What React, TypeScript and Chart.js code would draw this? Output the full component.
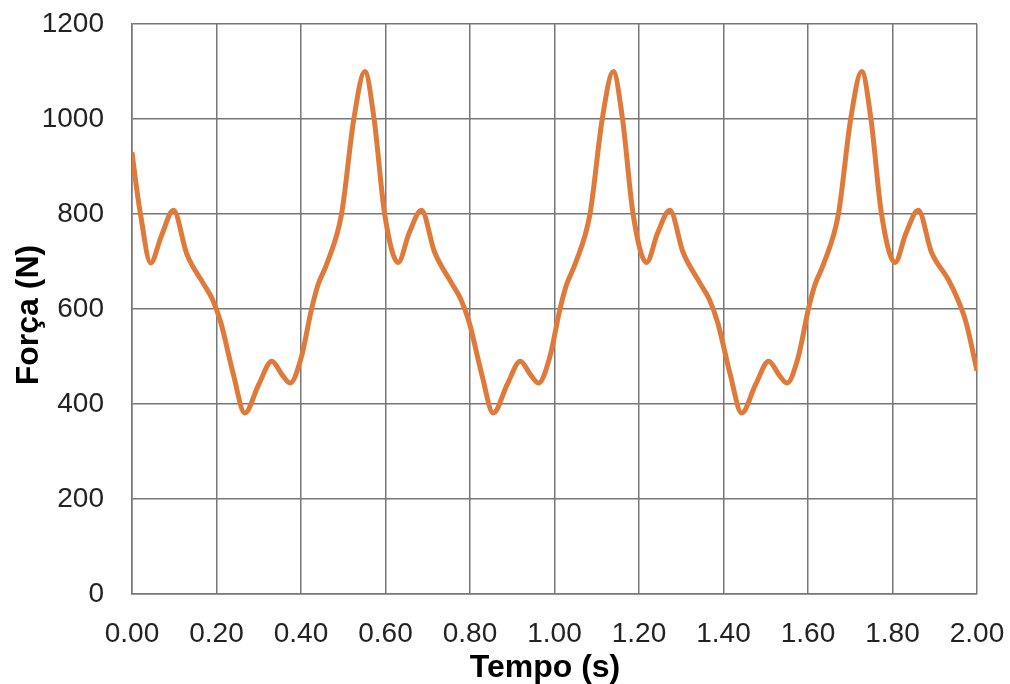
import React, { useEffect, useRef } from "react";
import { Chart, registerables } from "chart.js";

Chart.register(...registerables);

// Tempo (s)
const times: number[] = [
  0.0, 0.01, 0.02, 0.044, 0.07, 0.098, 0.13, 0.168, 0.19, 0.21, 0.24, 0.267, 0.3, 0.331, 0.355, 0.374, 0.4, 0.425, 0.44, 0.461, 0.496, 0.525,
  0.551, 0.573, 0.598, 0.63, 0.656, 0.685, 0.716, 0.756, 0.778, 0.798, 0.828, 0.855, 0.888, 0.919, 0.943, 0.962, 0.988, 1.013, 1.028, 1.049, 1.084, 1.113,
  1.139, 1.161, 1.186, 1.218, 1.244, 1.273, 1.304, 1.344, 1.366, 1.386, 1.416, 1.443, 1.476, 1.507, 1.531, 1.55, 1.576, 1.601, 1.616, 1.637, 1.672, 1.701,
  1.727, 1.749, 1.774, 1.806, 1.832, 1.861, 1.892, 1.932, 1.954, 1.974, 2.0,
];

// Força (N)
const forces: number[] = [
  930, 860, 800, 697, 755, 808, 715, 655, 621, 572, 462, 381, 441, 490, 462, 444, 496, 600, 650, 695, 800, 1000,
  1100, 1000, 800, 698, 760, 808, 720, 655, 621, 572, 462, 381, 441, 490, 462, 444, 496, 600, 650, 695, 800, 1000,
  1100, 1000, 800, 698, 760, 808, 720, 655, 621, 572, 462, 381, 441, 490, 462, 444, 496, 600, 650, 695, 800, 1000,
  1100, 1000, 800, 698, 760, 808, 720, 662, 621, 572, 470,
];

const xTitle = "Tempo (s)";
const yTitle = "Força (N)";
const FONT = '"Liberation Sans", Arial, sans-serif';

export default function App() {
  const canvasRef = useRef<HTMLCanvasElement | null>(null);

  useEffect(() => {
    const canvas = canvasRef.current;
    if (!canvas) return;

    const titlesPlugin = {
      id: "axisTitles",
      afterDraw(chart: any) {
        const ctx = chart.ctx;
        ctx.save();
        ctx.fillStyle = "#000";
        ctx.font = `bold 32px ${FONT}`;
        ctx.textAlign = "center";
        ctx.textBaseline = "middle";
        ctx.fillText(xTitle, 545, 668);
        ctx.translate(29, 315);
        ctx.rotate(-Math.PI / 2);
        ctx.fillText(yTitle, 0, 0);
        ctx.restore();
      },
    };

    const chart = new Chart(canvas, {
      type: "line",
      data: {
        datasets: [
          {
            data: times.map((t, i) => ({ x: t, y: forces[i] })),
            borderColor: "#E07A3A",
            borderWidth: 5,
            pointRadius: 0,
            fill: false,
            cubicInterpolationMode: "monotone",
          },
        ],
      },
      options: {
        animation: false,
        responsive: true,
        maintainAspectRatio: false,
        layout: { padding: 0 },
        plugins: {
          legend: { display: false },
          tooltip: { enabled: false },
        },
        scales: {
          x: {
            type: "linear",
            min: 0,
            max: 2,
            afterFit(scale: any) {
              scale.height = 90;
              scale.paddingLeft = 0;
              scale.paddingRight = 33;
            },
            ticks: {
              stepSize: 0.2,
              autoSkip: false,
              maxRotation: 0,
              padding: 23,
              color: "#222",
              font: { family: FONT, size: 28 },
              callback: (v: any) => Number(v).toFixed(2),
            },
            grid: { color: "#777", lineWidth: 1.5, drawTicks: false },
            border: { color: "#777", width: 1.5 },
          },
          y: {
            min: 0,
            max: 1200,
            afterFit(scale: any) {
              scale.width = 132;
              scale.paddingTop = 24;
              scale.paddingBottom = 0;
            },
            ticks: {
              stepSize: 200,
              padding: 28,
              color: "#222",
              font: { family: FONT, size: 28 },
              callback: (v: any) => String(v),
            },
            grid: { color: "#777", lineWidth: 1.5, drawTicks: false },
            border: { color: "#777", width: 1.5 },
          },
        },
      },
      plugins: [titlesPlugin],
    });

    return () => chart.destroy();
  }, []);

  return (
    <div style={{ position: "absolute", left: 0, top: 0, width: 1010, height: 684, background: "#fff" }}>
      <canvas ref={canvasRef} />
    </div>
  );
}
